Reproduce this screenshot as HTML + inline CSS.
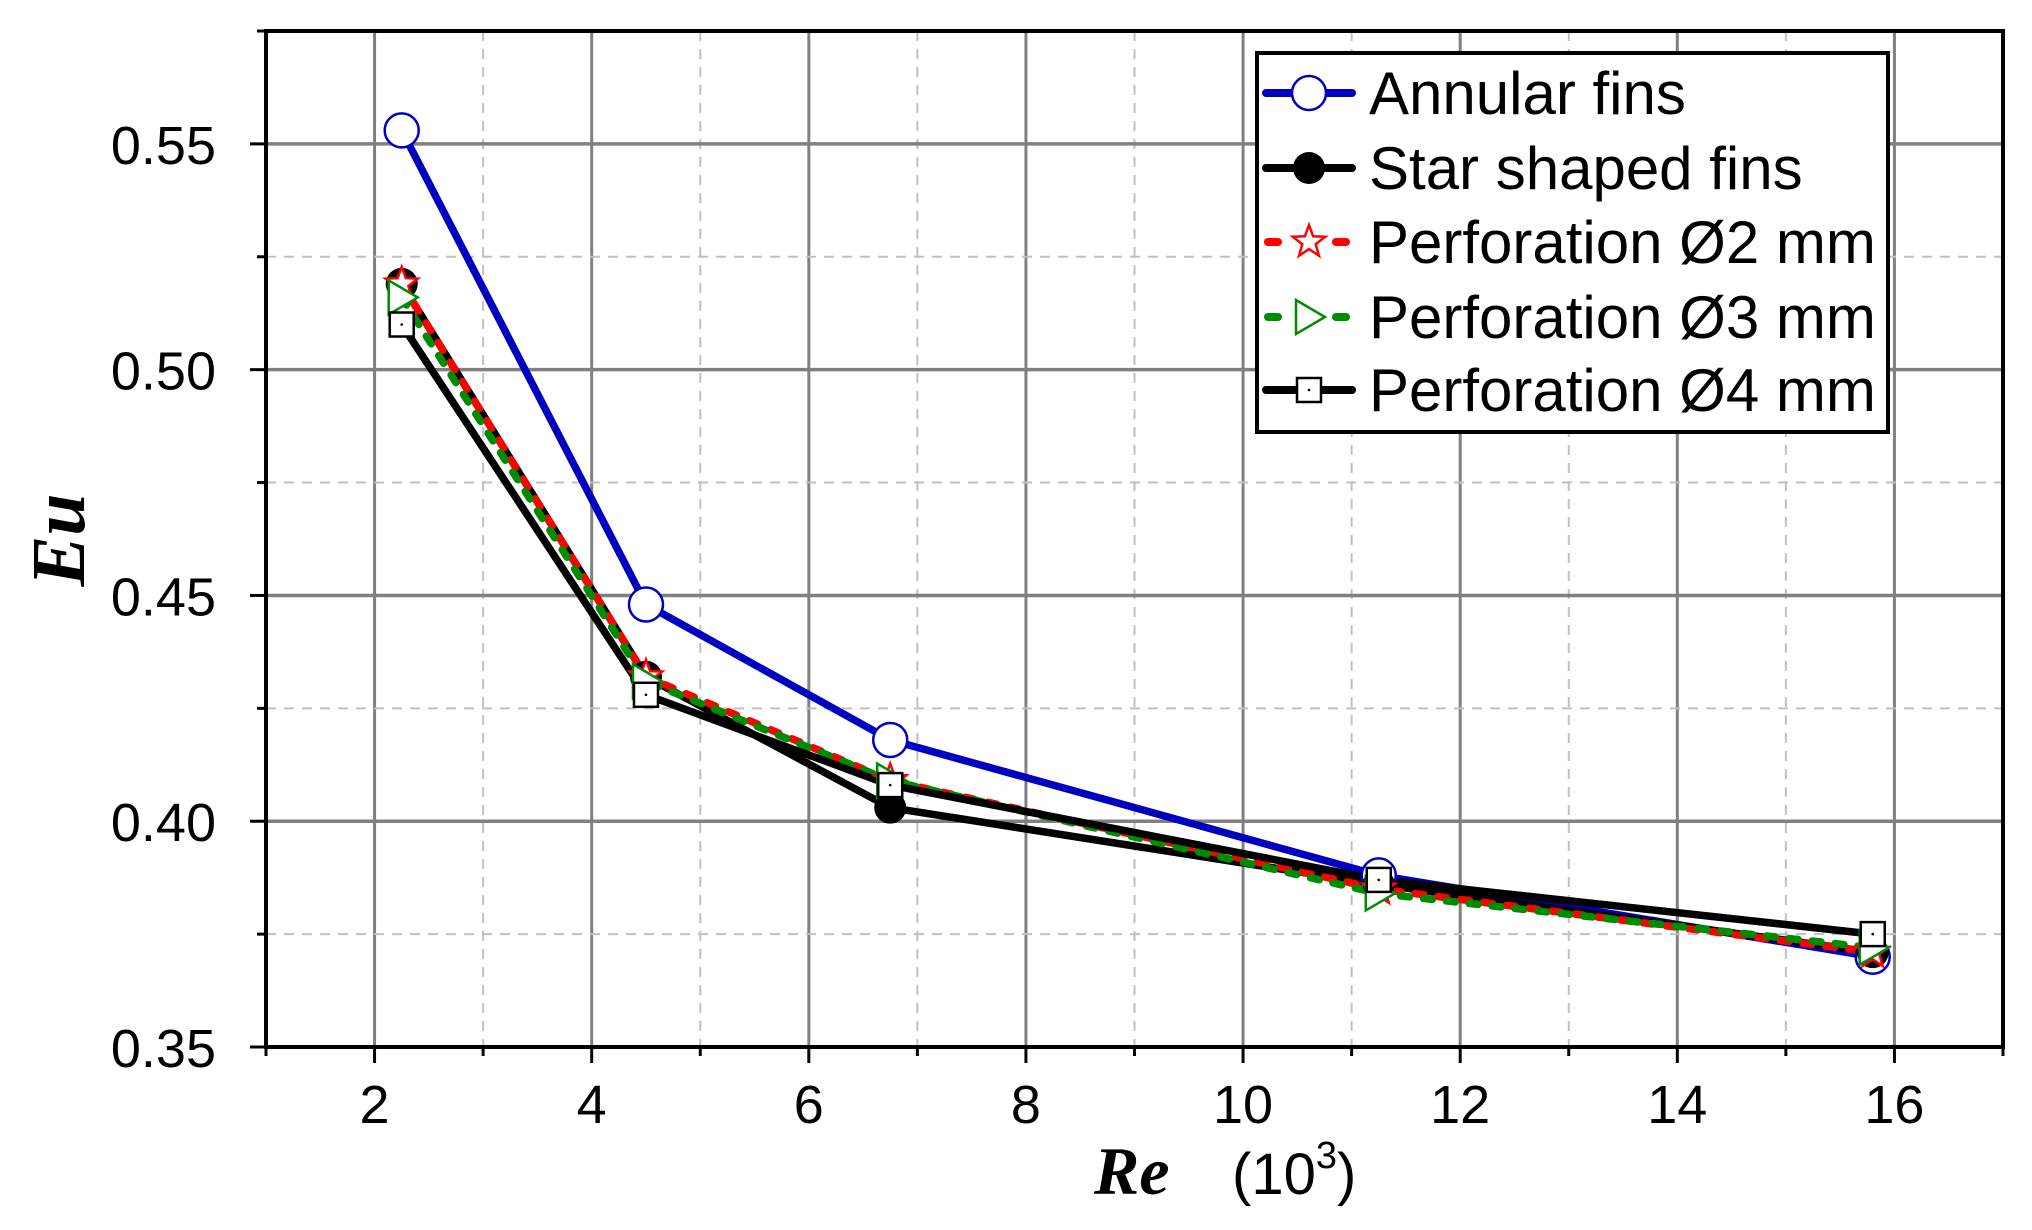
<!DOCTYPE html>
<html><head><meta charset="utf-8"><style>
html,body{margin:0;padding:0;background:#fff;}
svg{display:block;}
text{font-family:"Liberation Sans",Arial,sans-serif;}
</style></head><body>
<svg id="s" width="2032" height="1230" xmlns="http://www.w3.org/2000/svg"></svg>
<script>
const L=266,R=2003,T=31,B=1047;
const X=v=>L+(v-1)/16*(R-L);
const Y=v=>B-(v-0.35)/0.225*(B-T);
let h='<rect width="2032" height="1230" fill="#fff"/>';
for(let x=2;x<=16;x++){
  const px=X(x);
  if(x%2==0) h+=`<line x1="${px}" y1="${T}" x2="${px}" y2="${B}" stroke="#808080" stroke-width="3"/>`;
  else h+=`<line x1="${px}" y1="${T}" x2="${px}" y2="${B}" stroke="#c0c0c0" stroke-width="2" stroke-dasharray="10,8"/>`;
}
for(let i=1;i<=8;i++){
  const v=0.35+i*0.025, py=Y(v);
  if(i%2==0) h+=`<line x1="${L}" y1="${py}" x2="${R}" y2="${py}" stroke="#808080" stroke-width="3.5"/>`;
  else h+=`<line x1="${L}" y1="${py}" x2="${R}" y2="${py}" stroke="#c0c0c0" stroke-width="2" stroke-dasharray="10,8"/>`;
}
h+=`<rect x="${L}" y="${T}" width="${R-L}" height="${B-T}" fill="none" stroke="#000" stroke-width="4"/>`;
for(let x=1;x<=17;x++){const px=X(x);const len=x%2==0?16:9;
  h+=`<line x1="${px}" y1="${B}" x2="${px}" y2="${B+len}" stroke="#000" stroke-width="3"/>`;
  if(x%2==0) h+=`<text x="${px}" y="${B+76}" font-size="54" text-anchor="middle">${x}</text>`;}
for(let i=0;i<=9;i++){const v=0.35+i*0.025,py=Y(v);if(py<T-1)continue;const len=i%2==0?16:9;
  h+=`<line x1="${L-len}" y1="${py}" x2="${L}" y2="${py}" stroke="#000" stroke-width="3"/>`;
  if(i%2==0) h+=`<text x="${L-50}" y="${py+20}" font-size="54" text-anchor="end">${v.toFixed(2)}</text>`;}
h+=`<text x="1094" y="1194" font-size="68" font-weight="bold" font-style="italic" style="font-family:'Liberation Serif',serif">Re</text>`;
h+=`<text x="1232" y="1194" font-size="58">(10<tspan font-size="38" dy="-26">3</tspan><tspan dy="26">)</tspan></text>`;
h+=`<text transform="translate(84,540) rotate(-90)" font-size="76" font-weight="bold" font-style="italic" text-anchor="middle" style="font-family:'Liberation Serif',serif">Eu</text>`;
const xs=[2.25,4.5,6.75,11.25,15.8];
const S=[
 {d:[0.553,0.448,0.418,0.388,0.370],c:'#0000c0',dash:'',m:'o'},
 {d:[0.519,0.432,0.403,0.386,0.371],c:'#000',dash:'',m:'f'},
 {d:[0.519,0.432,0.409,0.385,0.371],c:'#ff0000',dash:'8,14',m:'s'},
 {d:[0.516,0.431,0.409,0.384,0.372],c:'#008c00',dash:'8,14',m:'t'},
 {d:[0.510,0.428,0.408,0.387,0.375],c:'#000',dash:'',m:'q'}];
function mk(m,x,y,c){
  if(m=='o')return `<circle cx="${x}" cy="${y}" r="17" fill="#fff" stroke="${c}" stroke-width="2.5"/>`;
  if(m=='f')return `<circle cx="${x}" cy="${y}" r="16" fill="#000"/>`;
  if(m=='s'){let p=[];for(let k=0;k<10;k++){const a=-Math.PI/2+k*Math.PI/5,r=k%2?7:17;p.push((x+r*Math.cos(a)).toFixed(1)+','+(y+r*Math.sin(a)).toFixed(1));}
    return `<polygon points="${p.join(' ')}" fill="#fff" stroke="${c}" stroke-width="2.5"/>`;}
  if(m=='t')return `<polygon points="${x-13},${y-17} ${x+16},${y} ${x-13},${y+17}" fill="#fff" stroke="${c}" stroke-width="2.5"/>`;
  if(m=='q')return `<rect x="${x-12}" y="${y-12}" width="24" height="24" fill="#fff" stroke="#000" stroke-width="2.5"/><circle cx="${x}" cy="${y}" r="1.3" fill="#000"/>`;
}
for(const s of S){
  const pts=xs.map((x,i)=>X(x).toFixed(1)+','+Y(s.d[i]).toFixed(1)).join(' ');
  h+=`<polyline points="${pts}" fill="none" stroke="${s.c}" stroke-width="7.5" stroke-linecap="round" stroke-linejoin="round" ${s.dash?`stroke-dasharray="9,14"`:''}/>`;
}
for(const s of S){xs.forEach((x,i)=>{h+=mk(s.m,X(x),Y(s.d[i]),s.c);});}
h+=`<rect x="1257" y="53" width="631" height="379" fill="#fff" stroke="#000" stroke-width="4"/>`;
const names=['Annular fins','Star shaped fins','Perforation Ø2 mm','Perforation Ø3 mm','Perforation Ø4 mm'];
const ry=[93,168,242,317,390];
S.forEach((s,i)=>{const y=ry[i];
  if(s.dash){
    h+=`<line x1="1268" y1="${y}" x2="1278" y2="${y}" stroke="${s.c}" stroke-width="8" stroke-linecap="round"/>`;
    h+=`<line x1="1336" y1="${y}" x2="1346" y2="${y}" stroke="${s.c}" stroke-width="8" stroke-linecap="round"/>`;
  } else h+=`<line x1="1266" y1="${y}" x2="1352" y2="${y}" stroke="${s.c}" stroke-width="8" stroke-linecap="round"/>`;
  h+=mk(s.m,1309,y,s.c);
  h+=`<text x="1369" y="${y+21}" font-size="60">${names[i]}</text>`;});
document.getElementById('s').innerHTML=h;
</script>
</body></html>
